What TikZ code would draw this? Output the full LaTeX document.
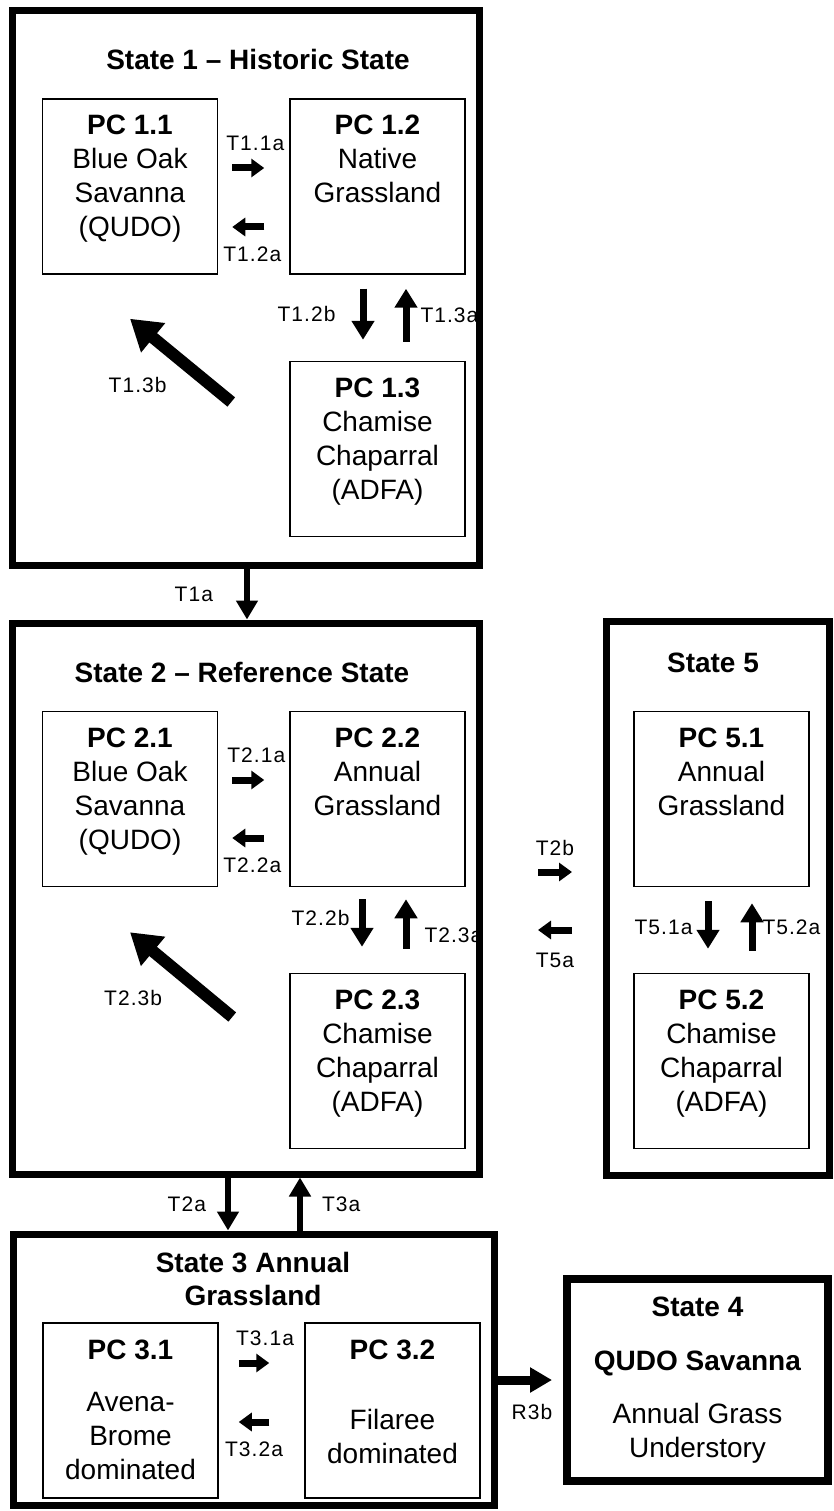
\documentclass[tikz,border=0pt]{standalone}
\usepackage{fontspec}
\setmainfont{Liberation Sans}
\newfontfamily\lblfamily[LetterSpace = 5]{Liberation Sans}
\usepackage{tikz}
\usetikzlibrary{arrows.meta, calc}

\newcommand{\pcfont}{\fontsize{28}{34}\selectfont}
\newcommand{\tfont}{\lblfamily\fontsize{21}{25}\selectfont}

\begin{document}
\begin{tikzpicture}[
    x = 1pt, y = -1pt,
    statebox/.style = {draw,
      line width = 7pt,
      inner sep = 0pt},
    pcbox/.style = {draw,
      line width = 1.5pt,
      inner sep = 0pt,
      minimum width = 175pt,
      minimum height = 175pt},
    pctext/.style = {anchor = north,
      yshift = -17pt,
      align = center,
      inner sep = 0pt,
      font = \pcfont},
    stitle/.style = {align = center,
      inner sep = 0pt,
      font = \pcfont\bfseries},
    tlabel/.style = {inner sep = 0pt,
      font = \tfont},
    smallarrow/.style = {line width = 7pt,
      -{Triangle[length = 13pt, width = 18pt]}},
    pcarrow/.style = {line width = 7pt,
      -{Triangle[length = 19pt, width = 22pt]}},
    bigarrow/.style = {line width = 12pt,
      -{Triangle[length = 30pt, width = 36pt]}},
    statearrow/.style = {line width = 6pt,
      -{Triangle[length = 19pt, width = 21pt]}}
    ]
    \useasboundingbox (0, 0) rectangle (833, 1511);

    % states
    \node at (245.5, 288) [statebox, minimum width = 467pt,
      minimum height = 554pt, name = S1] {};
    \node at (245.5, 898.5) [statebox, minimum width = 467pt,
      minimum height = 551pt, name = S2] {};
    \node at (717.5, 898) [statebox, minimum width = 223pt,
      minimum height = 554pt, name = S5] {};
    \node at (253.5, 1369.5) [statebox, minimum width = 481pt,
      minimum height = 271pt, name = S3] {};
    \node at (697.5, 1380) [statebox, line width = 8pt,
      minimum width = 261pt, minimum height = 202pt,
      align = center, font = \pcfont, name = S4]
      {\textbf{State 4}\\[20pt]\textbf{QUDO Savanna}\\[19pt]Annual Grass\\Understory};

    \node at (258, 59) [stitle, name = S1title] {State 1 -- Historic State};
    \node at (242, 672) [stitle, name = S2title] {State 2 -- Reference State};
    \node at (713, 663) [stitle, name = S5title] {State 5};
    \node at (253, 1278.5) [stitle, name = S3title]
      {State 3 Annual\\[-1pt]Grassland};

    % plant communities
    \node at (130, 186.5) [pcbox, name = p11] {};
    \node at (377.5, 186.5) [pcbox, name = p12] {};
    \node at (377.5, 449) [pcbox, name = p13] {};
    \node at (130, 799) [pcbox, name = p21] {};
    \node at (377.5, 799) [pcbox, name = p22] {};
    \node at (377.5, 1061) [pcbox, name = p23] {};
    \node at (721.5, 799) [pcbox, name = p51] {};
    \node at (721.5, 1061) [pcbox, name = p52] {};
    \node at (130.5, 1410.5) [pcbox, name = p31] {};
    \node at (392.5, 1410.5) [pcbox, name = p32] {};

    \node at (p11.north) [pctext, name = p11t]
      {\textbf{PC 1.1}\\Blue Oak\\Savanna\\(QUDO)};
    \node at (p12.north) [pctext, name = p12t]
      {\textbf{PC 1.2}\\Native\\Grassland};
    \node at (p13.north) [pctext, name = p13t]
      {\textbf{PC 1.3}\\Chamise\\Chaparral\\(ADFA)};
    \node at (p21.north) [pctext, name = p21t]
      {\textbf{PC 2.1}\\Blue Oak\\Savanna\\(QUDO)};
    \node at (p22.north) [pctext, name = p22t]
      {\textbf{PC 2.2}\\Annual\\Grassland};
    \node at (p23.north) [pctext, name = p23t]
      {\textbf{PC 2.3}\\Chamise\\Chaparral\\(ADFA)};
    \node at (p51.north) [pctext, name = p51t]
      {\textbf{PC 5.1}\\Annual\\Grassland};
    \node at (p52.north) [pctext, name = p52t]
      {\textbf{PC 5.2}\\Chamise\\Chaparral\\(ADFA)};
    \node at (p31.north) [pctext, name = p31t]
      {\textbf{PC 3.1}\\[18pt]Avena-\\Brome\\dominated};
    \node at (p32.north) [pctext, name = p32t]
      {\textbf{PC 3.2}\\[36pt]Filaree\\dominated};

    % transitions in state 1
    \draw [smallarrow] ($(p11.east) + (14, -18.5)$) to
    node [tlabel, above = 14pt, xshift = 7pt] {T1.1a} ($(p12.west) + (-25, -18.5)$);
    \draw [smallarrow] ($(p12.west) + (-25, 40.5)$) to
    node [tlabel, below = 16pt, xshift = 4pt] {T1.2a} ($(p11.east) + (14, 40.5)$);
    \draw [pcarrow] ($(p12.south) + (-14.5, 14)$) to
    node [tlabel, left = 24pt] {T1.2b} ($(p13.north) + (-14.5, -21)$);
    \draw [pcarrow] ($(p13.north) + (28.5, -19)$) to
    node [tlabel, right = 11pt] {T1.3a} ($(p12.south) + (28.5, 14)$);
    \draw [bigarrow] ($(p13.west) + (-58, -47)$) to
    node [tlabel, xshift = -43pt, yshift = -25pt] {T1.3b} ($(p11.south) + (0, 44)$);

    \draw [statearrow] ($(S1.south) + (1.5, 0)$) to
    node [tlabel, left = 31pt] {T1a} ($(S2.north) + (1.5, 0)$);

    % transitions in state 2
    \draw [smallarrow] ($(p21.east) + (14, -19)$) to
    node [tlabel, above = 14pt, xshift = 8pt] {T2.1a} ($(p22.west) + (-25, -19)$);
    \draw [smallarrow] ($(p22.west) + (-25, 39)$) to
    node [tlabel, below = 16pt, xshift = 4pt] {T2.2a} ($(p21.east) + (14, 39)$);
    \draw [pcarrow] ($(p22.south) + (-15.5, 12)$) to
    node [tlabel, left = 9pt, yshift = 5pt] {T2.2b} ($(p23.north) + (-15.5, -26)$);
    \draw [pcarrow] ($(p23.north) + (28.5, -24)$) to
    node [tlabel, right = 15pt, yshift = -11pt] {T2.3a} ($(p22.south) + (28.5, 12)$);
    \draw [bigarrow] ($(p23.west) + (-57, -44)$) to
    node [tlabel, xshift = -48pt, yshift = -23pt] {T2.3b} ($(p21.south) + (0, 45)$);

    \draw [statearrow] ($(S2.south) + (-17.5, 0)$) to
    node [tlabel, left = 19pt] {T2a} ($(S3.north) + (-25.5, 0)$);
    \draw [statearrow] ($(S3.north) + (46.5, 0)$) to
    node [tlabel, right = 19pt] {T3a} ($(S2.south) + (54.5, 0)$);

    \draw [smallarrow] ($(S2.east) + (55.5, -26.5)$) to
    node [tlabel, above = 13pt] {T2b} ($(S5.west) + (-30.5, -26)$);
    \draw [smallarrow] ($(S5.west) + (-30.5, 32)$) to
    node [tlabel, below = 20pt] {T5a} ($(S2.east) + (55.5, 31.5)$);

    % transitions in state 5
    \draw [pcarrow] ($(p51.south) + (-13.5, 14)$) to
    node [tlabel, left = 12pt, yshift = -2pt] {T5.1a} ($(p52.north) + (-13.5, -24)$);
    \draw [pcarrow] ($(p52.north) + (30.5, -22)$) to
    node [tlabel, right = 7pt] {T5.2a} ($(p51.south) + (30.5, 16)$);

    % transitions in state 3
    \draw [smallarrow] ($(p31.east) + (20, -47.5)$) to
    node [tlabel, above = 14pt, xshift = 11pt] {T3.1a} ($(p32.west) + (-35, -47.5)$);
    \draw [smallarrow] ($(p32.west) + (-35, 11.5)$) to
    node [tlabel, below = 16pt] {T3.2a} ($(p31.east) + (20, 11.5)$);

    \draw [line width = 9pt, -{Triangle[length = 22pt, width = 24pt]}]
    ($(S3.east) + (0.5, 10.5)$) to
    node [tlabel, below = 20pt, xshift = 7pt] {R3b} ($(S4.west) + (-11, 0)$);

  \end{tikzpicture}
\end{document}
